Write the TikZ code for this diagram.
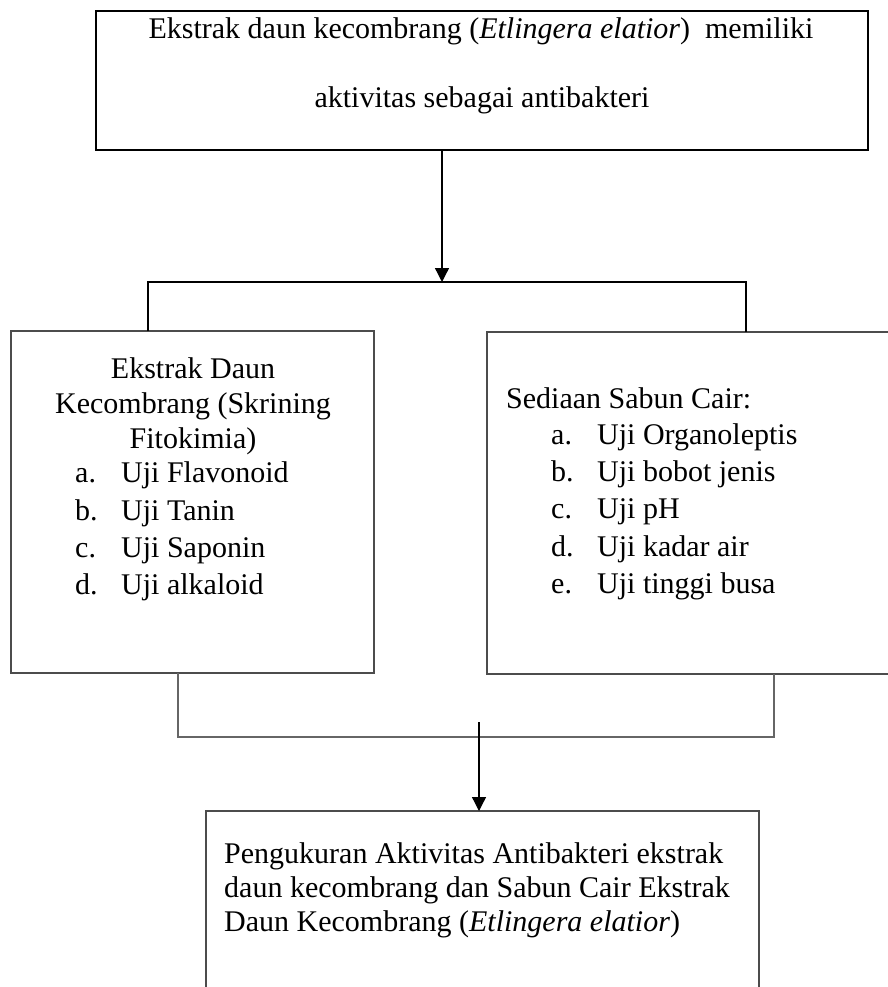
\documentclass[tikz,border=0pt]{standalone}
\usepackage{fontspec}
\setmainfont{Liberation Serif}
\usetikzlibrary{arrows.meta}
\begin{document}
\begin{tikzpicture}[x=1pt,y=-1pt,
  txt/.style={inner sep=0pt, font=\fontsize{30}{36}\selectfont},
  bl/.style={txt, anchor=base west},
  bc/.style={txt, anchor=base},
  boxthick/.style={draw=black, line width=2pt},
  boxthin/.style={draw=black!70, line width=1.2pt},
  frame/.style={inner sep=0pt, outer sep=0pt, anchor=north west},
  conn/.style={draw=black, line width=1.3pt, -{Triangle[length=14pt,width=14pt]}},
  brackA/.style={draw=black, line width=1.8pt},
  brackB/.style={draw=black!60, line width=1.2pt}]
\useasboundingbox (0,0) rectangle (888,987);

% boxes
\node[frame, boxthick, minimum width=772pt, minimum height=139pt] (top) at (96,11) {};
\node[frame, boxthin, minimum width=363pt, minimum height=342pt] (lbox) at (11,331) {};
\node[frame, minimum width=405pt, minimum height=342pt] (rbox) at (487,332) {};
\draw[boxthin] (rbox.north east) -- (rbox.north west) -- (rbox.south west) -- (rbox.south east);
\node[frame, minimum width=553pt, minimum height=180pt] (bbox) at (206,811) {};
\draw[boxthin] (bbox.south west) -- (bbox.north west) -- (bbox.north east) -- (bbox.south east);

% top text
\node[bc] (t1) at (481,39) {Ekstrak daun kecombrang (\textit{Etlingera elatior})\ \ memiliki};
\node[bc] (t2) at (482,108) {aktivitas sebagai antibakteri};

% left text
\node[bc] (l1) at (193,378) {Ekstrak Daun};
\node[bc] (l2) at (193,413) {Kecombrang (Skrining};
\node[bc] (l3) at (193,448) {Fitokimia)};
\node[bl] (la) at (75,482) {a.};
\node[bl] (lat) at (121,482) {Uji Flavonoid};
\node[bl] (lb) at (75,520) {b.};
\node[bl] (lbt) at (121,520) {Uji Tanin};
\node[bl] (lc) at (75,557) {c.};
\node[bl] (lct) at (121,557) {Uji Saponin};
\node[bl] (ld) at (75,594) {d.};
\node[bl] (ldt) at (121,594) {Uji alkaloid};

% right text
\node[bl] (r0) at (506,408) {Sediaan Sabun Cair:};
\node[bl] (ra) at (551,444) {a.};
\node[bl] (rat) at (597,444) {Uji Organoleptis};
\node[bl] (rb) at (551,481) {b.};
\node[bl] (rbt) at (597,481) {Uji bobot jenis};
\node[bl] (rc) at (551,518) {c.};
\node[bl] (rct) at (597,518) {Uji pH};
\node[bl] (rd) at (551,556) {d.};
\node[bl] (rdt) at (597,556) {Uji kadar air};
\node[bl] (re) at (551,593) {e.};
\node[bl] (ret) at (597,593) {Uji tinggi busa};

% bottom text
\node[bl] (b1) at (224,863) {Pengukuran Aktivitas Antibakteri ekstrak};
\node[bl] (b2) at (224,897) {daun kecombrang dan Sabun Cair Ekstrak};
\node[bl] (b3) at (224,931) {Daun Kecombrang (\textit{Etlingera elatior})};

% connectors
\coordinate (j1) at (442,282);
\coordinate (bl1) at (148,282);
\coordinate (br1) at (746,282);
\draw[conn] (top.south -| j1) -- (j1);
\draw[brackA] (lbox.north -| bl1) -- (bl1) -- (br1) -- (rbox.north -| br1);

\coordinate (bl2) at (178,737);
\coordinate (br2) at (774,737);
\draw[brackB] (lbox.south -| bl2) -- (bl2) -- (br2) -- (rbox.south -| br2);
\coordinate (a2) at (479,722);
\draw[conn] (a2) -- (bbox.north -| a2);
\end{tikzpicture}
\end{document}
